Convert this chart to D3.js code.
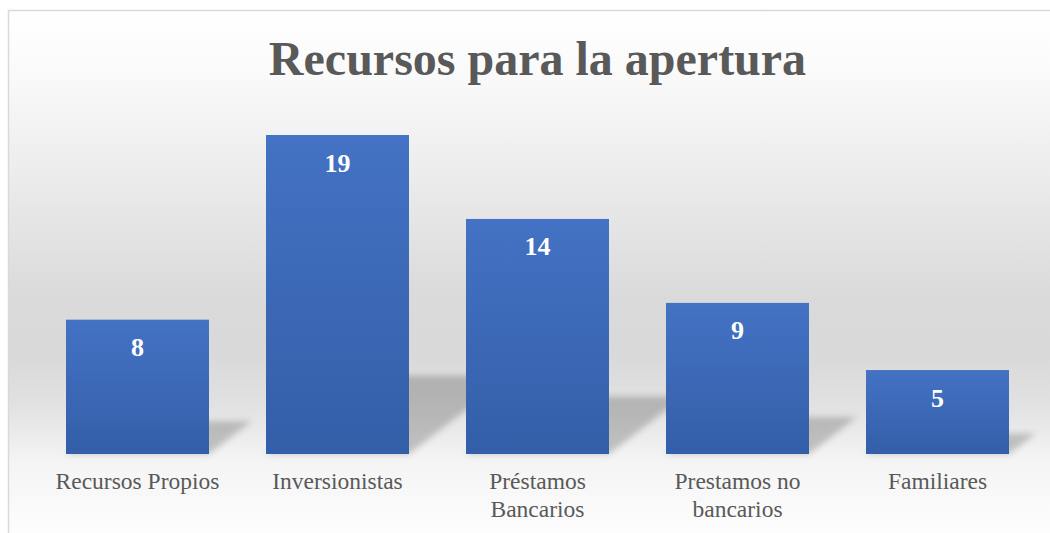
<!DOCTYPE html>
<html>
<head>
<meta charset="utf-8">
<script src="https://cdn.jsdelivr.net/npm/d3@7"></script>
<style>
  html, body { margin: 0; padding: 0; background: #ffffff; }
  svg { display: block; }
</style>
</head>
<body>
<svg id="chart" width="1050" height="533"></svg>
<script>
// Chart data
const title = "Recursos para la apertura";
const categories = ["Recursos Propios", "Inversionistas", "Préstamos Bancarios", "Prestamos no bancarios", "Familiares"];
const values = [8, 19, 14, 9, 5];

const W = 1050, H = 533;
const SERIF = "'Liberation Serif', 'Times New Roman', serif";
const svg = d3.select("#chart");
const defs = svg.append("defs");

// Chart area background: soft vertical gray gradient
const bg = defs.append("linearGradient")
  .attr("id", "bgGrad").attr("x1", 0).attr("y1", 0).attr("x2", 0).attr("y2", 1);
[[0, "#ffffff"], [0.12, "#fafafa"], [0.33, "#ebebeb"], [0.55, "#dadada"], [0.66, "#d9d9d9"],
 [0.76, "#e2e2e2"], [0.86, "#f4f4f4"], [1, "#fdfdfd"]]
  .forEach(([o, c]) => bg.append("stop").attr("offset", o).attr("stop-color", c));

// Bar fill gradient
const barGrad = defs.append("linearGradient")
  .attr("id", "barGrad").attr("x1", 0).attr("y1", 0).attr("x2", 0).attr("y2", 1);
barGrad.append("stop").attr("offset", 0).attr("stop-color", "#4472c4");
barGrad.append("stop").attr("offset", 1).attr("stop-color", "#335ea8");

// Soft blur for the perspective shadows
defs.append("filter").attr("id", "shadowBlur")
  .attr("x", "-30%").attr("y", "-30%").attr("width", "160%").attr("height", "160%")
  .append("feGaussianBlur").attr("stdDeviation", 3.2);

svg.append("rect")
  .attr("x", 8).attr("y", 10).attr("width", W - 8).attr("height", H - 10)
  .attr("fill", "url(#bgGrad)");

// Frame (top and left edges visible)
svg.append("path")
  .attr("d", `M8.5,${H} V10.5 H${W}`)
  .attr("fill", "none").attr("stroke", "#d9d9d9").attr("stroke-width", 1.5);

// Scales
const x = d3.scaleBand()
  .domain(categories)
  .range([37.5, 1037.5])
  .paddingInner(0.285)
  .paddingOuter(0.1425);

const baseline = 454;
const y = d3.scaleLinear()
  .domain([0, 19])
  .range([baseline, 135]);

// Title
svg.append("text")
  .attr("x", 537.5).attr("y", 75)
  .attr("text-anchor", "middle")
  .attr("font-family", SERIF)
  .attr("font-weight", "bold")
  .attr("font-size", 48)
  .attr("fill", "#595959")
  .text(title);

// Perspective shadows cast up-right behind each bar
const shadowG = svg.append("g").attr("filter", "url(#shadowBlur)");
shadowG.selectAll("path")
  .data(values)
  .join("path")
  .attr("d", (d, i) => {
    const x0 = x(categories[i]), x1 = x0 + x.bandwidth();
    const h = y(0) - y(d);
    const sh = 0.245 * h, dx = 1.3 * sh;
    return `M${x0},${y(0)} L${x1},${y(0)} L${x1 + dx},${y(0) - sh} L${x0 + dx},${y(0) - sh} Z`;
  })
  .attr("fill", "#000")
  .attr("fill-opacity", 0.2);

// Bars
svg.append("g").selectAll("rect")
  .data(values)
  .join("rect")
  .attr("x", (d, i) => x(categories[i]))
  .attr("y", d => y(d))
  .attr("width", x.bandwidth())
  .attr("height", d => y(0) - y(d))
  .attr("fill", "url(#barGrad)");

// Value labels inside the top of each bar
svg.append("g").selectAll("text")
  .data(values)
  .join("text")
  .attr("x", (d, i) => x(categories[i]) + x.bandwidth() / 2)
  .attr("y", d => y(d) + 36.5)
  .attr("text-anchor", "middle")
  .attr("font-family", SERIF)
  .attr("font-weight", "bold")
  .attr("font-size", 26)
  .attr("fill", "#ffffff")
  .text(d => d);

// Category axis labels (wrapped when too wide)
const xAxis = d3.axisBottom(x).tickSize(0).tickPadding(0);
const axisG = svg.append("g")
  .attr("transform", `translate(0,${baseline})`)
  .call(xAxis)
  .attr("font-family", SERIF)
  .attr("font-size", 23.5);
axisG.select(".domain").remove();
axisG.selectAll(".tick text")
  .attr("fill", "#595959")
  .attr("dy", null)
  .attr("y", 35)
  .each(function(label) {
    const t = d3.select(this);
    const words = label.split(" ");
    const maxW = 185;
    t.text(null);
    let lines = [], line = [];
    const probe = t.append("tspan");
    words.forEach(w => {
      line.push(w);
      probe.text(line.join(" "));
      if (probe.node().getComputedTextLength() > maxW && line.length > 1) {
        line.pop();
        lines.push(line.join(" "));
        line = [w];
        probe.text(w);
      }
    });
    lines.push(line.join(" "));
    t.text(null);
    lines.forEach((l, k) => {
      t.append("tspan").attr("x", 0).attr("y", 35 + k * 27.5).text(l);
    });
  });
</script>
</body>
</html>
